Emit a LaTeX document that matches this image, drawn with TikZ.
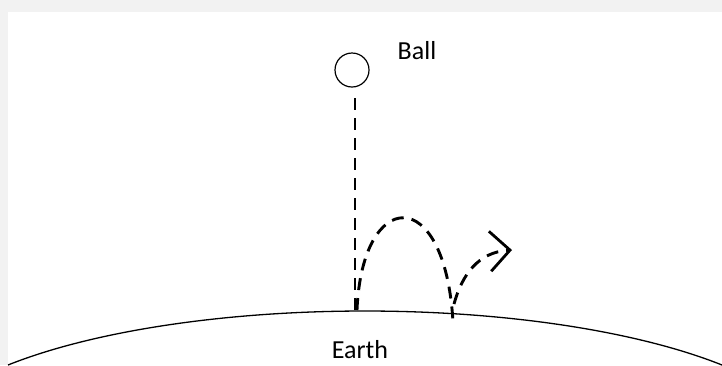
\documentclass[tikz,border=0pt]{standalone}
\usepackage{fontspec}
\setmainfont{Carlito}
\usetikzlibrary{arrows.meta}
\begin{document}
\begin{tikzpicture}[x=1pt,y=-1pt]
  \tikzset{path/.style={line width=2.9pt,dash pattern=on 12pt off 8pt},
           lbl/.style={font=\fontsize{26}{30}\selectfont}}
  \useasboundingbox (0,0) rectangle (722,365);
  \fill[black!5] (0,0) rectangle (722,12);
  \fill[black!5] (0,12) rectangle (8,365);
  % earth surface
  \draw[line width=1.3pt] (365,449) ++(217.5:450 and 138) arc (217.5:322.5:450 and 138);
  \node[lbl] (earth) at (360,350) {Earth};
  % ball
  \node[draw,circle,minimum size=34,inner sep=0,line width=1.2pt] (ball) at (352,70) {};
  \node[lbl] (balllbl) at (417,51) {Ball};
  \coordinate (drop) at (355,98);
  \coordinate (hit1) at (355,310);
  \coordinate (hit2) at (453,322);
  \coordinate (up2) at (454,304);
  \coordinate (tip) at (512,250);
  \draw[path] (drop) -- (hit1);
  \draw[path] (357,310) .. controls (362,188) and (445,182) .. (hit2);
  \draw[path,-{Straight Barb[length=20pt,width=40pt,line width=2.8pt]}] (up2) .. controls (462,275) and (478,252) .. (tip);
\end{tikzpicture}
\end{document}
